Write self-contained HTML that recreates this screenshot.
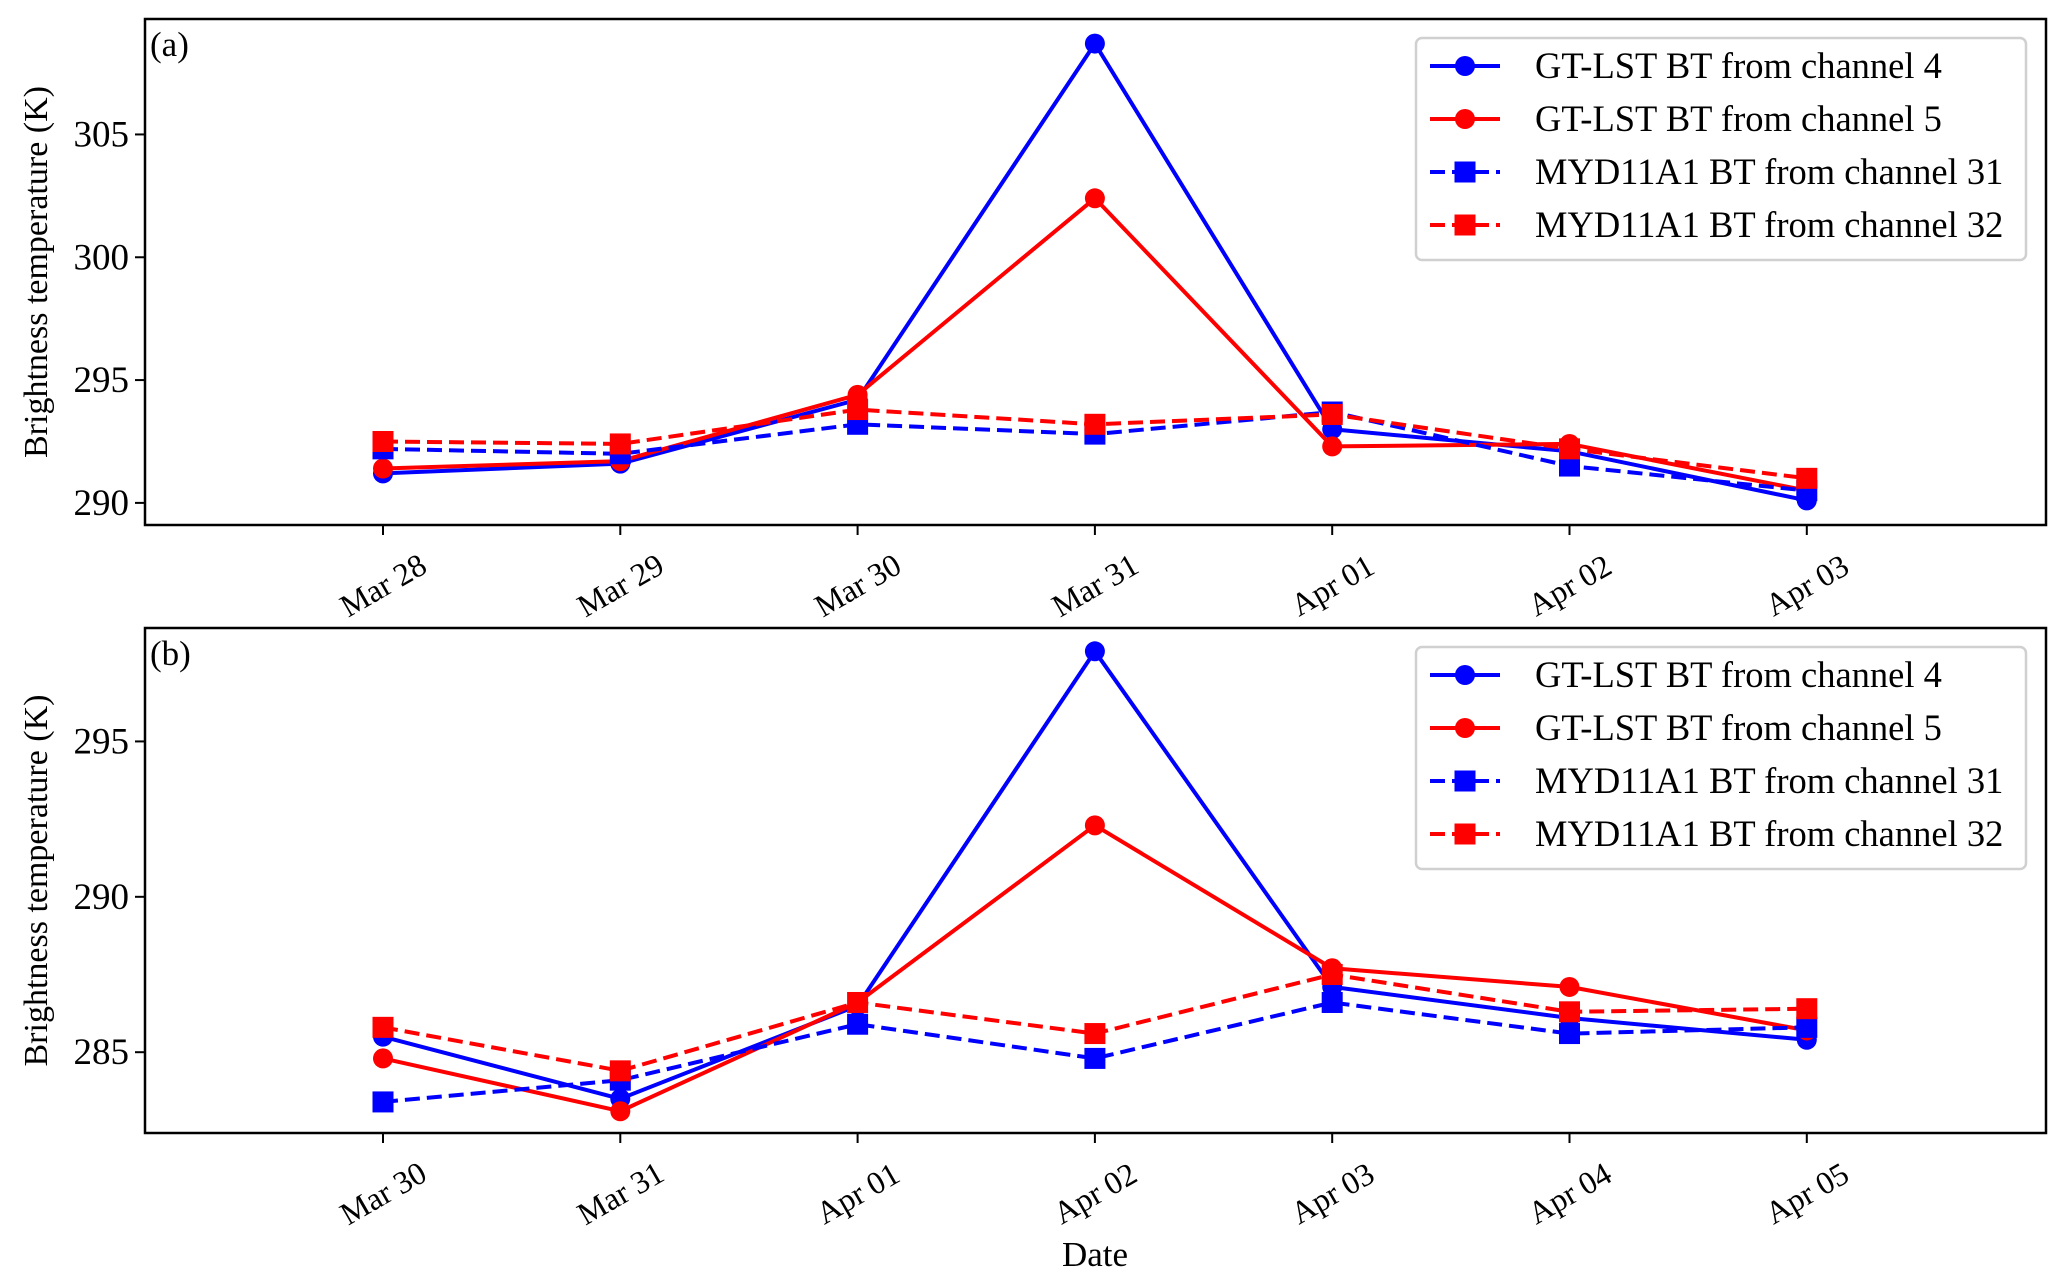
<!DOCTYPE html>
<html><head><meta charset="utf-8"><style>
html,body{margin:0;padding:0;background:#fff;}
svg{display:block;font-family:"Liberation Serif",serif;}
</style></head><body>
<svg id="fig" width="2067" height="1281" viewBox="0 0 2067 1281" xmlns="http://www.w3.org/2000/svg"></svg>
<script>
// ---- data ----
const datesA = ["Mar 28","Mar 29","Mar 30","Mar 31","Apr 01","Apr 02","Apr 03"];
const datesB = ["Mar 30","Mar 31","Apr 01","Apr 02","Apr 03","Apr 04","Apr 05"];
const ch4A  = [291.2, 291.6, 294.2, 308.7, 293.0, 292.1, 290.1];
const ch5A  = [291.4, 291.7, 294.4, 302.4, 292.3, 292.4, 290.5];
const ch31A = [292.2, 292.0, 293.2, 292.8, 293.7, 291.5, 290.5];
const ch32A = [292.5, 292.4, 293.8, 293.2, 293.6, 292.2, 291.0];
const ch4B  = [285.5, 283.5, 286.5, 297.9, 287.1, 286.1, 285.4];
const ch5B  = [284.8, 283.1, 286.6, 292.3, 287.7, 287.1, 285.7];
const ch31B = [283.4, 284.1, 285.9, 284.8, 286.6, 285.6, 285.8];
const ch32B = [285.8, 284.4, 286.6, 285.6, 287.5, 286.3, 286.4];
const ticksA = [290, 295, 300, 305];
const ticksB = [285, 290, 295];
const legendLabels = ["GT-LST BT from channel 4","GT-LST BT from channel 5","MYD11A1 BT from channel 31","MYD11A1 BT from channel 32"];

const NS = "http://www.w3.org/2000/svg";
const svg = document.getElementById('fig');
function mk(tag, attrs, parent){
  const e = document.createElementNS(NS, tag);
  for (const k in attrs) e.setAttribute(k, attrs[k]);
  (parent||svg).appendChild(e);
  return e;
}
const L = 145, R = 2046, x0 = 383, dx = 237.3;
const xAt = i => x0 + i*dx;

function panel(p){
  const g = mk('g', {});
  
  
  const yOf = v => p.bottom - (v - p.ymin) / (p.ymax - p.ymin) * (p.bottom - p.top);
  const series = [
    {vals:p.s4, color:'#0000ff', dash:null, mark:'circle', name:'series-gt-lst-ch4'},
    {vals:p.s5, color:'#ff0000', dash:null, mark:'circle', name:'series-gt-lst-ch5'},
    {vals:p.s31, color:'#0000ff', dash:'15 7', mark:'square', name:'series-myd11a1-ch31'},
    {vals:p.s32, color:'#ff0000', dash:'15 7', mark:'square', name:'series-myd11a1-ch32'}
  ];
  series.forEach(s => {
    const sg = mk('g', {}, g);
    
    
    const pts = s.vals.map((v,i)=> xAt(i).toFixed(1)+','+yOf(v).toFixed(1)).join(' ');
    const pl = mk('polyline', {points:pts, fill:'none', stroke:s.color, 'stroke-width':4, 'stroke-linejoin':'round'}, sg);
    if (s.dash) pl.setAttribute('stroke-dasharray', s.dash);
    
    
    s.vals.forEach((v,i) => {
      let m;
      if (s.mark === 'circle') m = mk('circle', {cx:xAt(i), cy:yOf(v), r:10, fill:s.color}, sg);
      else m = mk('rect', {x:xAt(i)-10.5, y:yOf(v)-10.5, width:21, height:21, fill:s.color}, sg);
      
      
    });
  });
  const fr = mk('rect', {x:L, y:p.top, width:R-L, height:p.bottom-p.top, fill:'none', stroke:'#000', 'stroke-width':2.5}, g);
  
  
  p.yt.forEach(t => {
    const y = yOf(t);
    mk('line', {x1:L-10, x2:L, y1:y, y2:y, stroke:'#000', 'stroke-width':2}, g);
    const tx = mk('text', {x:L-16, y:y+12, 'text-anchor':'end', 'font-size':37}, g);
    tx.textContent = t;
    
    
  });
  p.dates.forEach((d,i) => {
    const x = xAt(i);
    mk('line', {x1:x, x2:x, y1:p.bottom, y2:p.bottom+10, stroke:'#000', 'stroke-width':2}, g);
    const cy = p.bottom + 60;
    const tx = mk('text', {x:x, y:cy+11, 'text-anchor':'middle', 'font-size':32, transform:`rotate(-30 ${x} ${cy})`}, g);
    tx.textContent = d;
    
    
  });
  const yc = (p.top + p.bottom)/2;
  const yl = mk('text', {x:36, y:yc, 'text-anchor':'middle', 'font-size':34, transform:`rotate(-90 36 ${yc})`, dy:11}, g);
  yl.textContent = 'Brightness temperature (K)';
  
  
  const pl = mk('text', {x:150, y:p.top+37, 'font-size':35}, g);
  pl.textContent = p.label;
  
  
  const lg = mk('g', {}, g);
  
  
  const lt = p.top + 19;
  mk('rect', {x:1416, y:lt, width:610, height:222, rx:6, fill:'#fff', stroke:'#d0d0d0', 'stroke-width':2.5}, lg);
  series.forEach((s,k) => {
    const y = lt + 28 + k*53;
    const e = mk('g', {}, lg);
    
    
    const ln = mk('line', {x1:1430, x2:1500, y1:y, y2:y, stroke:s.color, 'stroke-width':4}, e);
    if (s.dash) ln.setAttribute('stroke-dasharray', '15 7');
    if (s.mark === 'circle') mk('circle', {cx:1465, cy:y, r:10, fill:s.color}, e);
    else mk('rect', {x:1454.5, y:y-10.5, width:21, height:21, fill:s.color}, e);
    const tx = mk('text', {x:1535, y:y+12, 'font-size':36.5}, e);
    tx.textContent = legendLabels[k];
  });
}

panel({name:'panel-a', label:'(a)', top:19, bottom:525, ymin:289.1, ymax:309.7, yt:ticksA, dates:datesA, s4:ch4A, s5:ch5A, s31:ch31A, s32:ch32A});
panel({name:'panel-b', label:'(b)', top:628, bottom:1133, ymin:282.4, ymax:298.65, yt:ticksB, dates:datesB, s4:ch4B, s5:ch5B, s31:ch31B, s32:ch32B});

const xl = mk('text', {x:1095, y:1266, 'text-anchor':'middle', 'font-size':35});
xl.textContent = 'Date';


</script>
</body></html>
